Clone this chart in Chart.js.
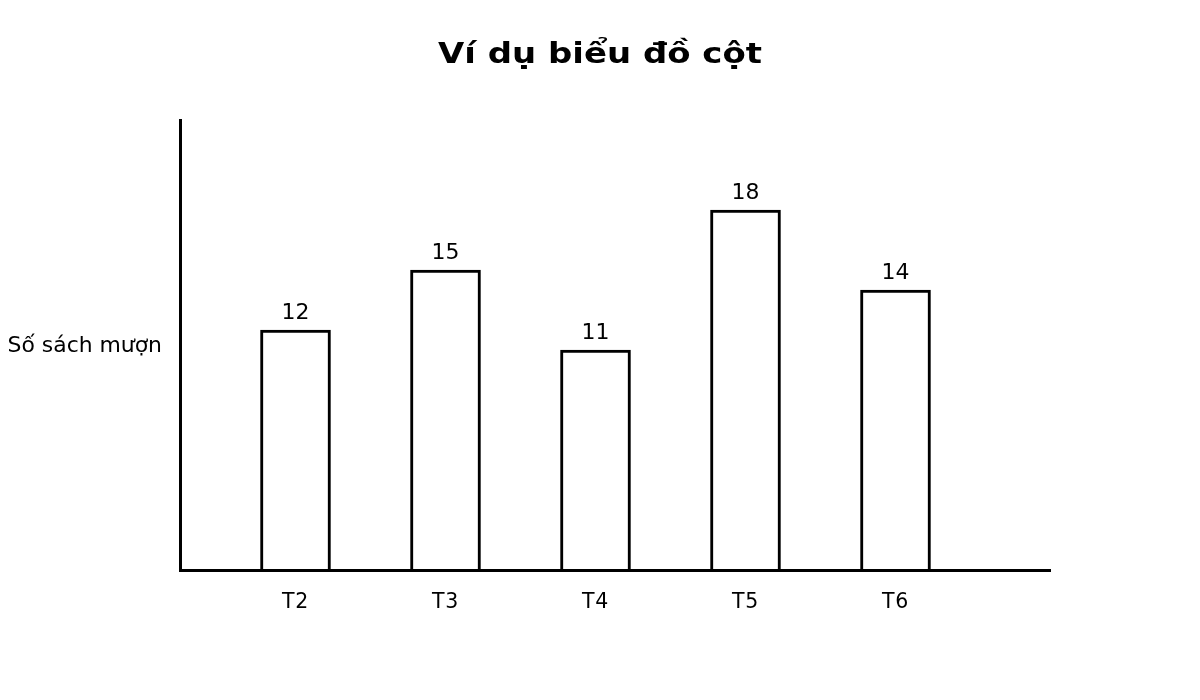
<!DOCTYPE html>
<html lang="vi">
<head>
<meta charset="utf-8">
<title>Ví dụ biểu đồ cột</title>
<script src="https://cdn.jsdelivr.net/npm/chart.js@4"></script>
<style>
  html, body { margin: 0; padding: 0; background: #fff; }
  #chart { display: block; }
</style>
</head>
<body>
<canvas id="chart" width="1200" height="700"></canvas>
<script>
(function () {
  "use strict";

  const categories = ["T2", "T3", "T4", "T5", "T6"];
  const borrowed = [12, 15, 11, 18, 14];
  const chartTitle = "Ví dụ biểu đồ cột";
  const yTitle = "Số sách mượn";

  const FONT = "'DejaVu Sans', 'Noto Sans', sans-serif";
  const SMALL = 20.5;

  Chart.defaults.font.family = FONT;
  Chart.defaults.color = "#000";

  // the reference glyphs are drawn a bit wider than the browser does it
  function wideText(ctx, text, x, y, stretch) {
    ctx.save();
    ctx.translate(x, y);
    ctx.scale(stretch, 1);
    ctx.fillText(text, 0, 0);
    ctx.restore();
  }

  // widen the title (the only layer drawn before the datasets), then reset
  const widen = {
    id: "widen",
    beforeDraw(chart) {
      const ctx = chart.ctx;
      const cx = chart.width / 2;
      this.base = ctx.getTransform();
      ctx.translate(cx, 0);
      ctx.scale(1.17, 1);
      ctx.translate(-cx, 0);
    },
    beforeDatasetsDraw(chart) {
      chart.ctx.setTransform(this.base);
      chart.ctx.letterSpacing = "0.8px";
    }
  };

  // value written above each bar
  const valueLabels = {
    id: "valueLabels",
    afterDatasetsDraw(chart) {
      const ctx = chart.ctx;
      const meta = chart.getDatasetMeta(0);
      ctx.save();
      ctx.letterSpacing = "0px";
      ctx.font = `${SMALL}px ${FONT}`;
      ctx.fillStyle = "#000";
      ctx.textAlign = "center";
      ctx.textBaseline = "alphabetic";
      meta.data.forEach((bar, i) => {
        wideText(ctx, String(borrowed[i]), bar.x, bar.y - 11, 1.07);
      });
      ctx.restore();
    }
  };

  // horizontal y-axis title, left of the axis
  const sideTitle = {
    id: "sideTitle",
    afterDraw(chart) {
      const { ctx, chartArea } = chart;
      ctx.save();
      ctx.letterSpacing = "0px";
      ctx.font = `${SMALL}px ${FONT}`;
      ctx.fillStyle = "#000";
      ctx.textAlign = "right";
      ctx.textBaseline = "alphabetic";
      wideText(ctx, yTitle, chartArea.left - 18, (chartArea.top + chartArea.bottom) / 2 + 7, 1.068);
      ctx.restore();
    }
  };

  new Chart(document.getElementById("chart"), {
    type: "bar",
    data: {
      datasets: [{
        label: yTitle,
        data: categories.map((label, i) => ({ x: i, y: borrowed[i] })),
        backgroundColor: "#fff",
        borderColor: "#000",
        borderWidth: 3,
        barThickness: 70
      }]
    },
    options: {
      responsive: false,
      animation: false,
      layout: { padding: { left: 150, right: 150, top: 0, bottom: 0 } },
      plugins: {
        legend: { display: false },
        tooltip: { enabled: false },
        title: {
          display: true,
          text: chartTitle,
          color: "#000",
          font: { size: 29, weight: "bold" },
          padding: { top: 38, bottom: 47.2 }
        }
      },
      scales: {
        x: {
          type: "linear",
          min: -0.77,
          max: 5.03,
          offset: false,
          grid: { display: false, drawTicks: false, offset: false },
          border: { display: true, color: "#000", width: 3, z: 1 },
          afterBuildTicks: (scale) => {
            scale.ticks = categories.map((_, i) => ({ value: i }));
          },
          afterFit: (scale) => { scale.height = 130; },
          ticks: {
            z: 1,
            autoSkip: false,
            maxRotation: 0,
            padding: 20,
            font: { size: SMALL },
            color: "#000",
            callback: (value) => categories[value] ?? ""
          }
        },
        y: {
          min: 0,
          max: 22.5,
          grid: { display: false, drawTicks: false },
          border: { display: true, color: "#000", width: 3, z: 1 },
          ticks: { display: false, z: 1 },
          afterFit: (scale) => { scale.width = 30; }
        }
      }
    },
    plugins: [widen, valueLabels, sideTitle]
  });
})();
</script>
</body>
</html>
